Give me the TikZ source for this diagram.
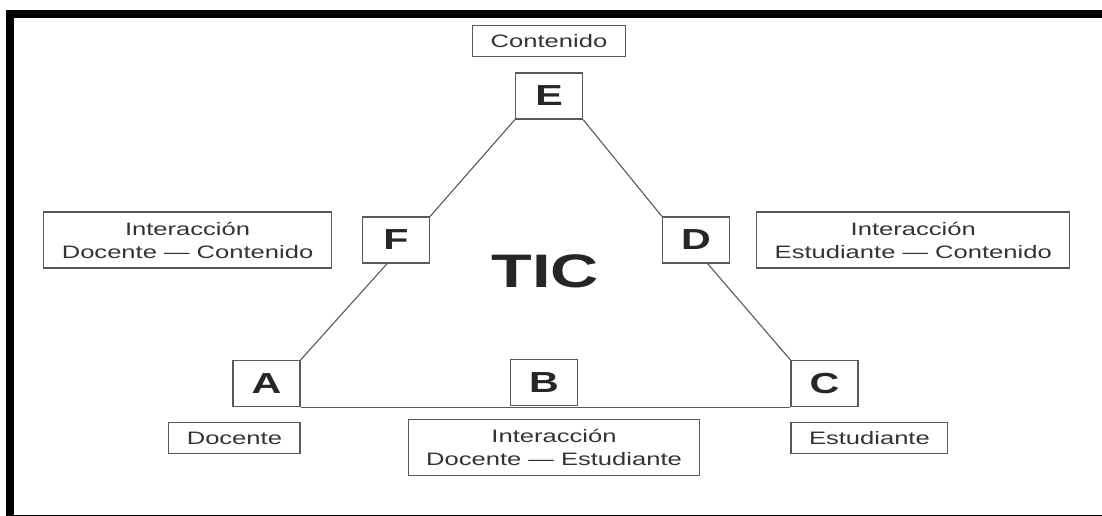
\documentclass[tikz,border=0pt]{standalone}
\usepackage{fontspec}
\setmainfont{Liberation Sans}[FakeStretch=1.42]
\usetikzlibrary{positioning,calc}
\tikzset{
letra/.style = {draw=black!65, line width=1.2pt, fill=white, rectangle, minimum width=67pt, minimum height=46pt, inner sep=0pt, font=\fontsize{29}{29}\selectfont\bfseries, text=black!85},
etiqueta/.style = {draw=black!65, line width=1.2pt, fill=white, rectangle, inner xsep=18pt, inner ysep=0pt, minimum height=31pt, font=\fontsize{18}{23}\selectfont, text=black!80},
doble/.style = {etiqueta, align=center, minimum height=56pt},
lado/.style = {draw=black!65, line width=1.1pt}
}

\begin{document}
\begin{tikzpicture}[x=1pt, y=-1pt]
  \useasboundingbox (0,0) rectangle (1102,516);
  % marco
  \fill (6,10) rectangle (1102,18);
  \fill (6,10) rectangle (14,516);
  \draw [line width=1pt] (6,515) -- (1102,515);

  \node [letra]                                              (E)          at (549,96)      {E};
  \node [letra]                                              (F)          at (396,240)     {F};
  \node [letra]                                              (D)          at (696,240)     {D};
  \node [letra]                                              (A)          at (266.5,383.5) {A};
  \node [letra]                                              (C)          at (824.5,383.5) {C};

  \draw [lado] (E.south west) -- (F.north east);
  \draw [lado] (E.south east) -- (D.north west);
  \draw [lado] ($(F.south west)!0.37!(F.south east)$) -- (A.north east);
  \draw [lado] ($(D.south west)!0.67!(D.south east)$) -- (C.north west);
  \draw [lado] (A.south east) -- (C.south west);

  \node [letra]                                              (B)          at (544,382.5)   {B};

  \node [etiqueta, above=15pt of E]                          (contenido)  {Contenido};
  \node [etiqueta, below=15pt of A.south east, anchor=north east] (docente) {Docente};
  \node [etiqueta, below=15pt of C.south west, anchor=north west] (estudiante) {Estudiante};
  \node [doble, below=13pt of B, xshift=10pt]                (intde)      {Interacción\\Docente — Estudiante};
  \node [doble, left=30pt of F]                              (intdc)      {Interacción\\Docente — Contenido};
  \node [doble, right=26pt of D]                             (intec)      {Interacción\\Estudiante — Contenido};

  \node [font=\fontsize{47}{47}\selectfont\bfseries, text=black!85, anchor=base] (tic) at (545,287) {TIC};
\end{tikzpicture}
\end{document}
